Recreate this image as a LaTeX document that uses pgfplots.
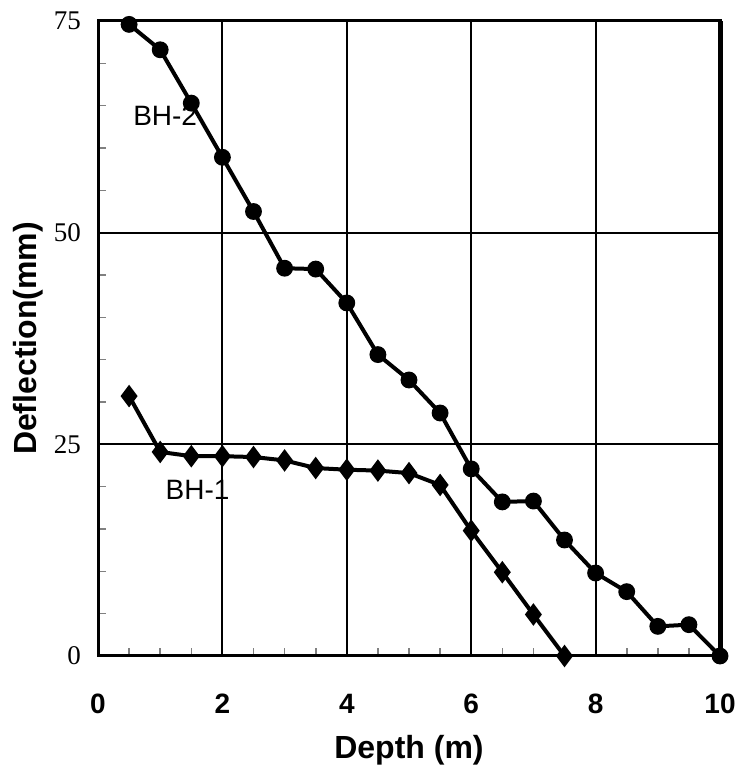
\documentclass[border=0pt]{standalone}
\usepackage{fontspec}
\setmainfont{Liberation Sans}
\newfontfamily\timesfont{Liberation Serif}
\usepackage{pgfplots}
\pgfplotsset{compat=1.18}

\begin{document}
\begin{tikzpicture}
\begin{axis}[
  scale only axis, width=311pt, height=317.5pt,
  xmin=0, xmax=10, ymin=0, ymax=75,
  xtick={0,2,...,10}, ytick={0,25,50,75},
  minor x tick num=3, minor y tick num=4,
  xtick pos=lower, ytick pos=left,
  tick align=inside,
  major tick length=0pt, minor tick length=4pt,
  every minor tick/.style={line width=0.8pt},
  grid=major, major grid style={black, line width=1pt},
  axis line style={line width=1.5pt},
  /pgf/number format/assume math mode=true,
  xticklabel style={font=\fontsize{14}{16}\selectfont\bfseries, text height=10pt, text depth=0pt, anchor=north},
  yticklabel style={font=\fontsize{13.5}{15}\timesfont, xshift=-5pt},
  xticklabel shift=15pt,
  xlabel={Depth (m)}, ylabel={Deflection(mm)},
  xlabel style={font=\fontsize{16}{18}\selectfont\bfseries, inner sep=0pt, at={(axis description cs:0.5,0)}, anchor=center, yshift=-47pt},
  ylabel style={font=\fontsize{16}{18}\selectfont\bfseries, inner sep=0pt, at={(axis description cs:-0.1125,0.5)}, anchor=center, rotate=0},
  clip=false,
]
% BH-2
\addplot[black, line width=2pt, mark=*, mark size=3.2pt] coordinates {
  (0.5,74.6) (1,71.6) (1.5,65.3) (2,58.9) (2.5,52.5) (3,45.8) (3.5,45.7)
  (4,41.7) (4.5,35.6) (5,32.6) (5.5,28.7) (6,22.1) (6.5,18.2) (7,18.3)
  (7.5,13.7) (8,9.8) (8.5,7.6) (9,3.5) (9.5,3.7) (10,0)
};
% BH-1
\addplot[black, line width=2pt, mark=diamond*, mark size=4pt] coordinates {
  (0.5,30.7) (1,24.1) (1.5,23.6) (2,23.6) (2.5,23.5) (3,23.1) (3.5,22.2)
  (4,22.0) (4.5,21.9) (5,21.6) (5.5,20.2) (6,14.8) (6.5,9.9) (7,4.9) (7.5,0)
};
\node[font=\fontsize{14}{16}\selectfont] at (axis cs:1.08,63.8) {BH-2};
\node[font=\fontsize{14}{16}\selectfont] at (axis cs:1.6,19.6) {BH-1};
\draw[line width=2.5pt] (axis cs:10,0) -- (axis cs:10,75);
\end{axis}
\path[use as bounding box] (-49pt,-56.5pt) rectangle (324pt,328pt);
\end{tikzpicture}
\end{document}
